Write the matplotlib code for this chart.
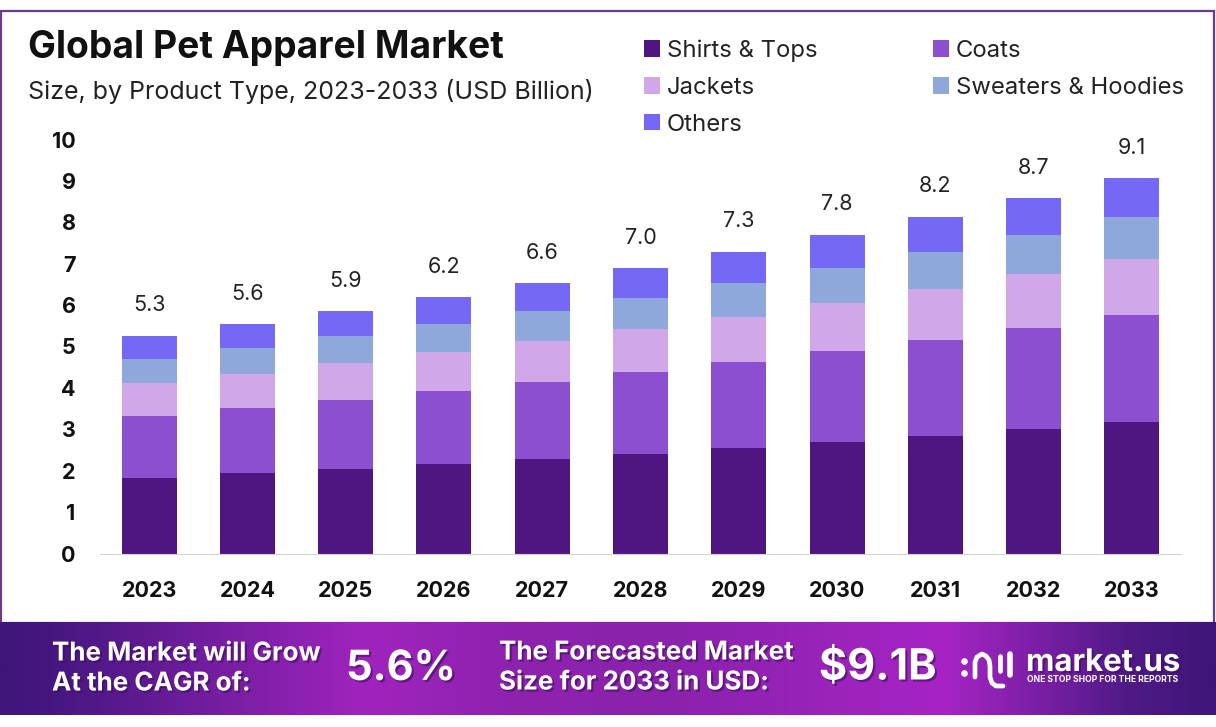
import matplotlib
matplotlib.use("Agg")
import matplotlib.pyplot as plt
import matplotlib.patheffects as pe
from matplotlib.colors import LinearSegmentedColormap
from matplotlib.patches import Rectangle
import numpy as np

plt.rcParams["font.family"] = ["Inter", "DejaVu Sans"]

# Dados
anos = ["2023", "2024", "2025", "2026", "2027", "2028", "2029", "2030", "2031", "2032", "2033"]
camisas = [1.82, 1.94, 2.04, 2.16, 2.28, 2.40, 2.55, 2.69, 2.84, 3.01, 3.18]
casacos = [1.50, 1.57, 1.67, 1.76, 1.86, 1.98, 2.08, 2.20, 2.32, 2.44, 2.58]
jaquetas = [0.80, 0.82, 0.89, 0.94, 0.99, 1.04, 1.09, 1.16, 1.23, 1.30, 1.35]
moletons = [0.58, 0.63, 0.65, 0.68, 0.72, 0.75, 0.82, 0.85, 0.89, 0.94, 1.01]
outros = [0.56, 0.58, 0.60, 0.65, 0.68, 0.72, 0.75, 0.80, 0.85, 0.89, 0.94]
totais = [5.3, 5.6, 5.9, 6.2, 6.6, 7.0, 7.3, 7.8, 8.2, 8.7, 9.1]
y_ticks = [0, 1, 2, 3, 4, 5, 6, 7, 8, 9, 10]

series = [
    ("Shirts & Tops", camisas, "#4F1580"),
    ("Coats", casacos, "#8C4FCF"),
    ("Jackets", jaquetas, "#D0A8EA"),
    ("Sweaters & Hoodies", moletons, "#8FA8DC"),
    ("Others", outros, "#7468F5"),
]

W, H = 1216, 727
fig = plt.figure(figsize=(W / 100, H / 100), dpi=100, facecolor="white")

# Fundo em coordenadas de pixel: moldura, faixa e textos
bg = fig.add_axes([0, 0, 1, 1], zorder=0)
bg.axis("off")
bg.add_patch(Rectangle((1, 11), W - 3, 612, fill=False, edgecolor="#6B3A8C", linewidth=1.6))

cmap = LinearSegmentedColormap.from_list("faixa", [
    (0.0, "#3E1678"), (0.04, "#45177F"), (0.30, "#A024BE"), (0.42, "#8E22AE"),
    (0.55, "#8A22AC"), (0.78, "#A624C4"), (0.93, "#4F1A86"), (1.0, "#3E1678"),
])
grad = np.linspace(0, 1, 512).reshape(1, -1)
bg.imshow(grad, cmap=cmap, extent=(0, W, 715, 622), aspect="auto", zorder=2)
bg.set_xlim(0, W)
bg.set_ylim(H, 0)

sombra = [pe.SimplePatchShadow(offset=(1.5, -1.5), shadow_rgbFace="#3A0F5C", alpha=0.6), pe.Normal()]


def txt(x, y, s, size, weight="bold", cor="white", efeito=None):
    t = bg.text(x, y, s, fontsize=size, fontweight=weight, color=cor, ha="left", va="center", zorder=3)
    if efeito:
        t.set_path_effects(efeito)
    return t


txt(28, 48, "Global Pet Apparel Market", 26.8, cor="#111111")
txt(28, 91, "Size, by Product Type, 2023-2033 (USD Billion)", 18, weight="normal", cor="#222222")

txt(52, 654, "The Market will Grow", 18.7, efeito=sombra)
txt(52, 684, "At the CAGR of:", 18.7, efeito=sombra)
txt(346, 669, "5.6%", 30, efeito=sombra)
txt(499, 653, "The Forecasted Market", 18.7, efeito=sombra)
txt(499, 683, "Size for 2033 in USD:", 18.7, efeito=sombra)
txt(819, 668, "$9.1B", 31, efeito=sombra)
txt(1026, 663, "market.us", 22.4, efeito=sombra)
txt(1027, 680, "ONE STOP SHOP FOR THE REPORTS", 6.2)

# Logo simplificado
bg.plot([975, 975, 977, 982, 986, 989, 990, 990, 992, 996, 1003],
        [677, 662, 657, 654, 656, 660, 666, 677, 683, 686, 686],
        color="white", lw=3.4, solid_capstyle="round", zorder=3)
bg.plot([1000, 1000], [656, 671], color="white", lw=3.4, solid_capstyle="round", zorder=3)
bg.plot([1010, 1010], [654, 675], color="white", lw=4, solid_capstyle="round", zorder=3)
bg.scatter([964, 964], [661, 673], s=14, color="white", zorder=3)

# Grafico de barras empilhadas
left, right, top, bottom = 100, 1181, 139.5, 553.5
ax = fig.add_axes([left / W, 1 - bottom / H, (right - left) / W, (bottom - top) / H], zorder=1)
ax.patch.set_alpha(0)

base = np.zeros(len(anos))
handles = {}
for nome, valores, cor in series:
    barras = ax.bar(anos, valores, width=0.56, bottom=base, color=cor, label=nome)
    handles[nome] = barras
    base = base + np.array(valores)

for i, total in enumerate(totais):
    ax.annotate(f"{total:.1f}", (i, base[i]), xytext=(0, 22), textcoords="offset points",
                ha="center", va="center", fontsize=15.5, color="#222222")

ax.set_xlim(-0.5, 10.5)
ax.set_ylim(0, 10)
ax.set_yticks(y_ticks)
ax.tick_params(axis="both", length=0, labelsize=15.5, labelcolor="#111111")
ax.tick_params(axis="x", pad=20)
ax.tick_params(axis="y", pad=17.5)
for lab in ax.get_xticklabels() + ax.get_yticklabels():
    lab.set_fontweight("bold")
for lado in ["top", "right", "left"]:
    ax.spines[lado].set_visible(False)
ax.spines["bottom"].set_color("#D4D4D4")

# Legenda: preenche por coluna
ordem = ["Shirts & Tops", "Jackets", "Others", "Coats", "Sweaters & Hoodies"]
fig.legend([handles[n] for n in ordem], ordem, ncol=2, loc="upper left",
           bbox_to_anchor=(644 / W, 1 - 39.5 / H), frameon=False, fontsize=17.2,
           labelcolor="#222222", handlelength=0.66, handleheight=0.68, handletextpad=0.29,
           labelspacing=0.62, columnspacing=4.85, borderpad=0, borderaxespad=0)

fig.savefig("out.png", dpi=100, facecolor="white")
plt.close(fig)
